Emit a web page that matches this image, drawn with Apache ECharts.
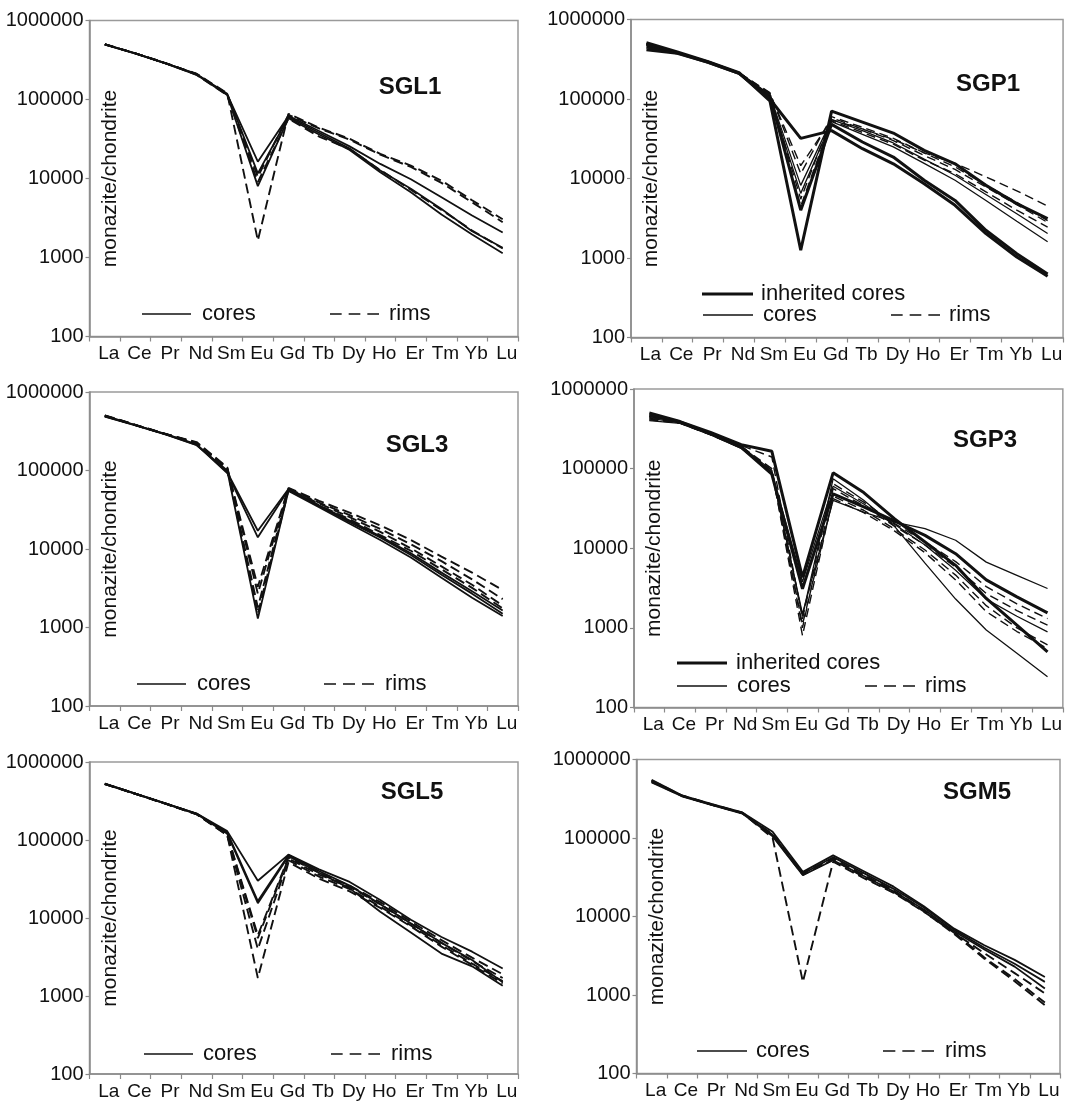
<!DOCTYPE html>
<html><head><meta charset="utf-8">
<script src="https://cdn.jsdelivr.net/npm/echarts@6/dist/echarts.min.js"></script>
<style>html,body{margin:0;padding:0;background:#fff}#c{width:1065px;height:1101px}</style>
</head><body><div id="c"></div>
<script>
// ---------------- data ----------------
const REE = ['La','Ce','Pr','Nd','Sm','Eu','Gd','Tb','Dy','Ho','Er','Tm','Yb','Lu'];
const Y_TICKS = [100, 1000, 10000, 100000, 1000000];

// SGL1
const sgl1_core_a = [500000,383000,287000,209000,116000,16300,62000,40000,25500,15300,9800,5800,3400,2070];
const sgl1_core_b = [500000,383000,287000,209000,118000,11600,60000,38000,24000,12600,7400,4100,2150,1330];
const sgl1_core_c = [495000,380000,284000,205000,114000,8000,58000,36000,23000,12000,6700,3500,1950,1130];
const sgl1_rim_a  = [500000,383000,287000,212000,120000,1640,66000,44000,31800,20500,14600,9400,5300,3050];
const sgl1_rim_b  = [500000,383000,287000,209000,117000,10500,64000,43000,31000,20000,14000,8800,5000,2800];
const sgl1_rim_c  = [500000,383000,287000,205000,113000,9000,57000,34000,23500,12800,7200,4000,2200,1300];

// SGP1
const sgp1_inh_a  = [510000,390000,295000,215000,95000,1250,70500,51300,37300,22600,15300,8200,4830,3130];
const sgp1_inh_b  = [415000,375000,290000,210000,110000,4000,48000,28800,18600,9500,5300,2230,1135,630];
const sgp1_inh_c  = [450000,380000,290000,210000,100000,32000,40000,23700,15300,8600,4600,2030,1030,590];
const sgp1_core_a = [480000,385000,292000,212000,112000,8200,55000,40000,28000,17500,11000,6300,3600,2030];
const sgp1_core_b = [470000,382000,290000,210000,108000,6500,52000,36000,25000,15500,9500,5300,2900,1600];
const sgp1_rim_a  = [490000,386000,293000,213000,118000,14500,55000,42000,31000,21000,15500,10500,7000,4500];
const sgp1_rim_b  = [495000,388000,294000,214000,120000,11500,60000,44000,32000,21000,14000,8300,5000,2950];
const sgp1_rim_c  = [485000,385000,292000,212000,115000,5500,58000,42000,30000,19500,13000,7800,4700,2800];
const sgp1_rim_d  = [480000,384000,291000,211000,112000,4500,53000,38000,27000,17000,11500,6800,4000,2450];

// SGL3
const sgl3_core_a = [500000,380000,290000,215000,95000,17100,58000,36000,23000,14500,8800,5000,2900,1650];
const sgl3_core_b = [490000,377000,288000,212000,93000,14100,57000,35000,22000,14000,8400,4700,2700,1500];
const sgl3_core_c = [485000,375000,286000,210000,100000,1300,55000,34000,21000,13000,7800,4300,2400,1400];
const sgl3_rim_a  = [505000,382000,292000,225000,108000,3300,60000,41000,29000,20000,13000,8000,5000,3000];
const sgl3_rim_b  = [500000,380000,290000,230000,110000,2700,59000,39000,27000,18000,11500,7000,4100,2300];
const sgl3_rim_c  = [495000,378000,289000,225000,105000,1800,58000,38000,25500,16500,10200,6000,3500,1900];
const sgl3_rim_d  = [500000,380000,290000,222000,106000,1500,56000,36000,24000,15000,9500,5500,3200,1750];

// SGP3
const sgp3_inh_a  = [500000,390000,285000,200000,165000,4300,88500,50000,23500,12000,6100,2340,1080,500];
const sgp3_inh_b  = [470000,385000,275000,185000,85000,3100,48300,33000,22000,14500,8550,4000,2450,1545];
const sgp3_core_a = [400000,370000,265000,180000,90000,1500,40000,28400,21300,17600,12600,6700,4570,3120];
const sgp3_core_b = [430000,375000,270000,190000,95000,1400,74500,40000,19000,6500,2300,940,480,244];
const sgp3_core_c = [450000,380000,272000,195000,88000,3800,60000,36000,20000,11000,5300,2300,1400,890];
const sgp3_rim_a  = [460000,380000,275000,195000,140000,1300,64600,38000,20500,12000,6800,3300,2000,1310];
const sgp3_rim_b  = [440000,378000,270000,190000,100000,1000,56000,34000,19000,11000,5800,2700,1650,1080];
const sgp3_rim_c  = [420000,375000,268000,185000,95000,800,45000,30000,17500,9500,4600,1900,1000,610];
const sgp3_rim_d  = [410000,372000,265000,182000,90000,1100,42000,28000,16500,8800,4000,1600,900,550];

// SGL5
const sgl5_core_a = [528000,394000,293000,218000,130000,30000,65000,42000,29000,17000,9500,5700,3700,2250];
const sgl5_core_b = [528000,394000,293000,218000,125000,16500,64000,40000,26000,15000,8500,4800,2900,1500];
const sgl5_core_c = [520000,390000,290000,215000,120000,15500,62000,38000,24000,12000,6500,3500,2400,1350];
const sgl5_rim_a  = [525000,392000,292000,216000,118000,6000,60000,38000,26000,16000,9000,5200,3100,1900];
const sgl5_rim_b  = [525000,392000,292000,216000,117000,5500,58000,36000,25000,15000,8500,4800,2800,1700];
const sgl5_rim_c  = [522000,390000,290000,214000,115000,4000,55000,34000,23500,14000,8000,4500,2600,1550];
const sgl5_rim_d  = [520000,390000,290000,214000,116000,1700,52000,32000,22000,13500,7800,4300,2500,1450];

// SGM5
const sgm5_core_a = [550000,350000,270000,212000,120000,37000,60000,38000,24000,13500,7000,4300,2800,1700];
const sgm5_core_b = [530000,345000,265000,208000,110000,35000,57000,36000,22500,13000,6800,4000,2500,1470];
const sgm5_core_c = [510000,340000,262000,205000,105000,33500,52000,33000,21000,12300,6500,3800,2300,1210];
const sgm5_rim_a  = [520000,345000,265000,208000,100000,1470,50000,31000,20000,11500,6200,3400,1900,1050];
const sgm5_rim_b  = [540000,348000,268000,210000,112000,36000,55000,34000,21500,12000,6300,3000,1600,800];
const sgm5_rim_c  = [530000,345000,265000,207000,108000,34000,53000,32000,20500,11600,6000,2900,1500,740];

// ---------------- styles & layout ----------------
const FONT = '"Liberation Sans", Arial, Helvetica, sans-serif';
const INK = '#111';
const AXIS = '#8a8a8a';
const STYLE = {
  core:     {width: 1.8, type: 'solid'},
  rim:      {width: 1.9, type: [10, 5]},
  inh:      {width: 3.0, type: 'solid'},
  coreThin: {width: 1.3, type: 'solid'},
  rimThin:  {width: 1.4, type: [9, 5]}
};

const PANELS = [
  {title: 'SGL1', grid: {left: 89.5, top: 20.5, width: 428.5, height: 316}, tpos: [410, 87],
   lines: [[sgl1_core_a,'core'],[sgl1_core_b,'core'],[sgl1_core_c,'core'],[sgl1_rim_a,'rim'],[sgl1_rim_b,'rim'],[sgl1_rim_c,'rim']],
   legend: [{k:'core', x1:142, x2:191, y:314, tx:202, t:'cores'}, {k:'rim', x1:330, x2:379, y:314, tx:389, t:'rims'}]},
  {title: 'SGP1', grid: {left: 631, top: 19.5, width: 437.5, height: 318}, tpos: [988, 84],
   lines: [[sgp1_inh_a,'inh'],[sgp1_inh_b,'inh'],[sgp1_inh_c,'inh'],[sgp1_core_a,'coreThin'],[sgp1_core_b,'coreThin'],
           [sgp1_rim_a,'rimThin'],[sgp1_rim_b,'rimThin'],[sgp1_rim_c,'rimThin'],[sgp1_rim_d,'rimThin']],
   legend: [{k:'inh', x1:702, x2:753, y:294, tx:761, t:'inherited cores'}, {k:'core', x1:703, x2:753, y:315, tx:763, t:'cores'},
            {k:'rim', x1:891, x2:940, y:315, tx:949, t:'rims'}]},
  {title: 'SGL3', grid: {left: 89.5, top: 392, width: 428.5, height: 314}, tpos: [417, 445],
   lines: [[sgl3_core_a,'core'],[sgl3_core_b,'core'],[sgl3_core_c,'core'],[sgl3_rim_a,'rim'],[sgl3_rim_b,'rim'],[sgl3_rim_c,'rim'],[sgl3_rim_d,'rim']],
   legend: [{k:'core', x1:137, x2:186, y:684, tx:197, t:'cores'}, {k:'rim', x1:324, x2:374, y:684, tx:385, t:'rims'}]},
  {title: 'SGP3', grid: {left: 634, top: 389, width: 431.5, height: 318.5}, tpos: [985, 440],
   lines: [[sgp3_inh_a,'inh'],[sgp3_inh_b,'inh'],[sgp3_core_a,'coreThin'],[sgp3_core_b,'coreThin'],[sgp3_core_c,'coreThin'],
           [sgp3_rim_a,'rimThin'],[sgp3_rim_b,'rimThin'],[sgp3_rim_c,'rimThin'],[sgp3_rim_d,'rimThin']],
   legend: [{k:'inh', x1:677, x2:727, y:663, tx:736, t:'inherited cores'}, {k:'core', x1:677, x2:727, y:686, tx:737, t:'cores'},
            {k:'rim', x1:865, x2:915, y:686, tx:925, t:'rims'}]},
  {title: 'SGL5', grid: {left: 89.5, top: 762, width: 428.5, height: 313}, tpos: [412, 792],
   lines: [[sgl5_core_a,'core'],[sgl5_core_b,'core'],[sgl5_core_c,'core'],[sgl5_rim_a,'rim'],[sgl5_rim_b,'rim'],[sgl5_rim_c,'rim'],[sgl5_rim_d,'rim']],
   legend: [{k:'core', x1:144, x2:193, y:1054, tx:203, t:'cores'}, {k:'rim', x1:331, x2:380, y:1054, tx:391, t:'rims'}]},
  {title: 'SGM5', grid: {left: 636.5, top: 759.5, width: 423.5, height: 314}, tpos: [977, 792],
   lines: [[sgm5_core_a,'core'],[sgm5_core_b,'core'],[sgm5_core_c,'core'],[sgm5_rim_a,'rim'],[sgm5_rim_b,'rim'],[sgm5_rim_c,'rim']],
   legend: [{k:'core', x1:697, x2:747, y:1051, tx:756, t:'cores'}, {k:'rim', x1:883, x2:934, y:1051, tx:945, t:'rims'}]}
];

// ---------------- build option ----------------
const grids = [], xAxes = [], yAxes = [], series = [], titles = [], graphics = [];
PANELS.forEach((p, i) => {
  grids.push(Object.assign({show: true, borderColor: '#9a9a9a', borderWidth: 1.5, containLabel: false}, p.grid));
  xAxes.push({
    type: 'category', gridIndex: i, data: REE, boundaryGap: true,
    axisLine: {show: true, lineStyle: {color: AXIS, width: 1.5}},
    axisTick: {show: true, alignWithLabel: false, interval: 0, length: 5, lineStyle: {color: AXIS, width: 1.2}},
    axisLabel: {interval: 0, fontSize: 19, fontFamily: FONT, color: INK, margin: 8, padding: [0, 0, 0, 8]},
    splitLine: {show: false}
  });
  yAxes.push({
    type: 'log', logBase: 10, gridIndex: i, min: Y_TICKS[0], max: Y_TICKS[Y_TICKS.length - 1],
    name: 'monazite/chondrite', nameLocation: 'middle', nameGap: -31,
    nameTextStyle: {fontSize: 21, fontFamily: FONT, color: INK},
    axisLine: {show: true, lineStyle: {color: AXIS, width: 1.5}},
    axisTick: {show: true, length: 4, lineStyle: {color: AXIS, width: 1.2}},
    axisLabel: {fontSize: 20, fontFamily: FONT, color: INK, margin: 6,
      formatter: v => String(Math.round(v))},
    splitLine: {show: false}, minorTick: {show: false}
  });
  p.lines.forEach(([arr, kind], j) => {
    const st = STYLE[kind];
    series.push({
      type: 'line', name: p.title + '-' + kind + '-' + j, xAxisIndex: i, yAxisIndex: i,
      data: arr, symbol: 'none', silent: true, animation: false,
      lineStyle: {color: INK, width: st.width, type: st.type}
    });
  });
  titles.push({text: p.title, left: p.tpos[0], top: p.tpos[1], textAlign: 'center', textVerticalAlign: 'middle', padding: 0,
    textStyle: {fontSize: 24, fontWeight: 'bold', fontFamily: FONT, color: INK}});
  p.legend.forEach(it => {
    const st = STYLE[it.k];
    const len = it.x2 - it.x1, gap = 7, dash = (len - 2 * gap) / 3;
    graphics.push({type: 'line', silent: true, shape: {x1: it.x1, y1: it.y, x2: it.x2, y2: it.y},
      style: {stroke: INK, lineWidth: it.k === 'inh' ? 3.2 : 1.7, lineDash: Array.isArray(st.type) ? [dash, gap] : null}});
    graphics.push({type: 'text', silent: true, x: it.tx, y: it.y,
      style: {text: it.t, font: '22px ' + FONT, fill: INK, textAlign: 'left', textVerticalAlign: 'middle'}});
  });
});

const chart = echarts.init(document.getElementById('c'));
chart.setOption({
  backgroundColor: '#fff', animation: false,
  title: titles, grid: grids, xAxis: xAxes, yAxis: yAxes, series: series, graphic: graphics
});
</script></body></html>
